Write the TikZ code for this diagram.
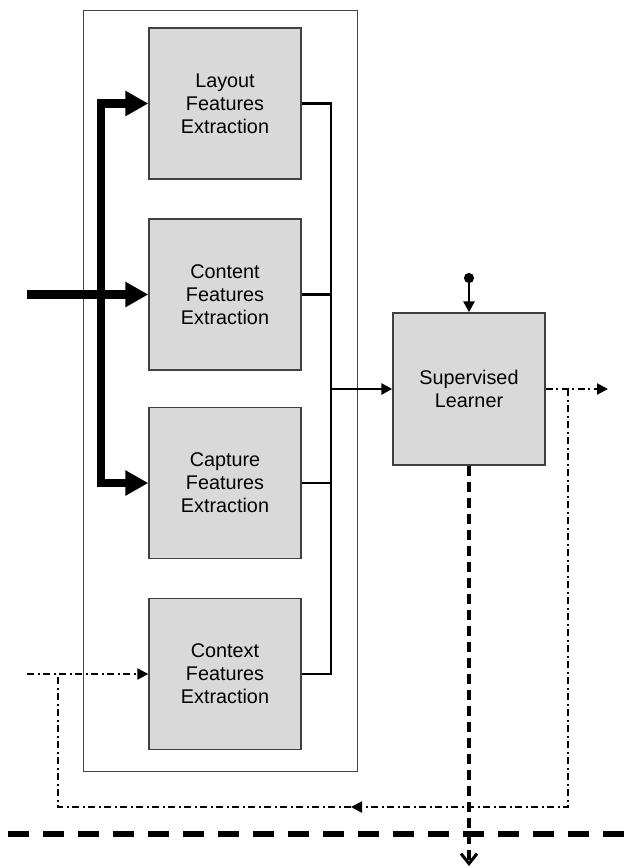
\documentclass[tikz,border=0pt]{standalone}
\usepackage{fontspec}
\setmainfont{Liberation Sans}
\usetikzlibrary{arrows.meta}
\definecolor{boxfill}{HTML}{D9D9D9}
\definecolor{boxline}{HTML}{404040}
\definecolor{frameline}{HTML}{444444}
\tikzset{
  featbox/.style={draw=boxline, line width=1.4pt, fill=boxfill,
    minimum width=152pt, minimum height=151pt, inner sep=0pt,
    align=center, font=\fontsize{19.8}{23}\selectfont},
  framebox/.style={draw=frameline, line width=1pt, inner sep=0pt},
  bus/.style={line width=2.6pt, line join=miter},
  fat/.style={line width=8.5pt, line join=miter},
  fathead/.tip={Triangle[length=23pt, width=24pt]},
  smallhead/.tip={Triangle[length=11pt, width=11pt]},
  dd/.style={line width=2.2pt, dash pattern=on 7pt off 3.5pt on 2pt off 3.5pt},
  vdash/.style={line width=3.8pt, dash pattern=on 10pt off 6pt},
  hdash/.style={line width=5.5pt, dash pattern=on 21pt off 14pt},
}
\begin{document}
\begin{tikzpicture}[x=1pt, y=-1pt]
  \useasboundingbox (0,0) rectangle (625,868);

  % enclosing frame around the feature extractors
  \node[framebox, minimum width=274pt, minimum height=761pt] (frame) at (220,390.5) {};

  % feature extraction blocks
  \node[featbox] (layout)  at (225,103.5) {Layout\\Features\\Extraction};
  \node[featbox] (content) at (225,294.5) {Content\\Features\\Extraction};
  \node[featbox] (capture) at (225,483)   {Capture\\Features\\Extraction};
  \node[featbox] (context) at (225,674)   {Context\\Features\\Extraction};

  % learner block
  \node[featbox, minimum height=152pt] (learner) at (469,389) {Supervised\\Learner};

  % collecting bus
  \coordinate (bt) at (331,103.5);
  \coordinate (bb) at (331,674);
  \draw[bus] (layout.east) -- (bt) -- (bb) -- (context.east);
  \draw[bus] (content.east) -- (content.east -| bt);
  \draw[bus] (capture.east) -- (capture.east -| bt);
  \draw[bus, -smallhead] (learner.west -| bt) -- (learner.west);

  % thick main input
  \coordinate (in) at (27,294.5);
  \coordinate (tt) at (101,103.5);
  \coordinate (tb) at (101,483);
  \draw[fat, -fathead] (in) -- (content.west);
  \draw[fat, fathead-fathead] (layout.west) -- (tt) -- (tb) -- (capture.west);

  % top input to the learner
  \coordinate (src) at (469,273);
  \draw[bus, {Circle[length=10pt]}-smallhead] (src) -- (learner.north);

  % learner output and feedback loop
  \coordinate (outR) at (608,389);
  \coordinate (fbTop) at (568,389);
  \coordinate (fbR) at (568,807);
  \coordinate (fbMid) at (351,807);
  \coordinate (fbL) at (58,807);
  \coordinate (fbJ) at (58,674);
  \coordinate (ctxIn) at (27,674);
  \draw[dd, -smallhead] (learner.east) -- (outR);
  \draw[dd, -smallhead] (fbTop) -- (fbR) -- (fbMid);
  \draw[dd] (fbMid) -- (fbL) -- (fbJ);
  \draw[dd, -smallhead] (ctxIn) -- (context.west);

  % learner result crossing the boundary
  \coordinate (down) at (469,866);
  \draw[vdash, -{Straight Barb[length=10pt, width=16pt, line width=3pt]}] (learner.south) -- (down);

  % boundary line
  \coordinate (hl) at (8,834);
  \coordinate (hr) at (625,834);
  \draw[hdash] (hl) -- (hr);
\end{tikzpicture}
\end{document}
